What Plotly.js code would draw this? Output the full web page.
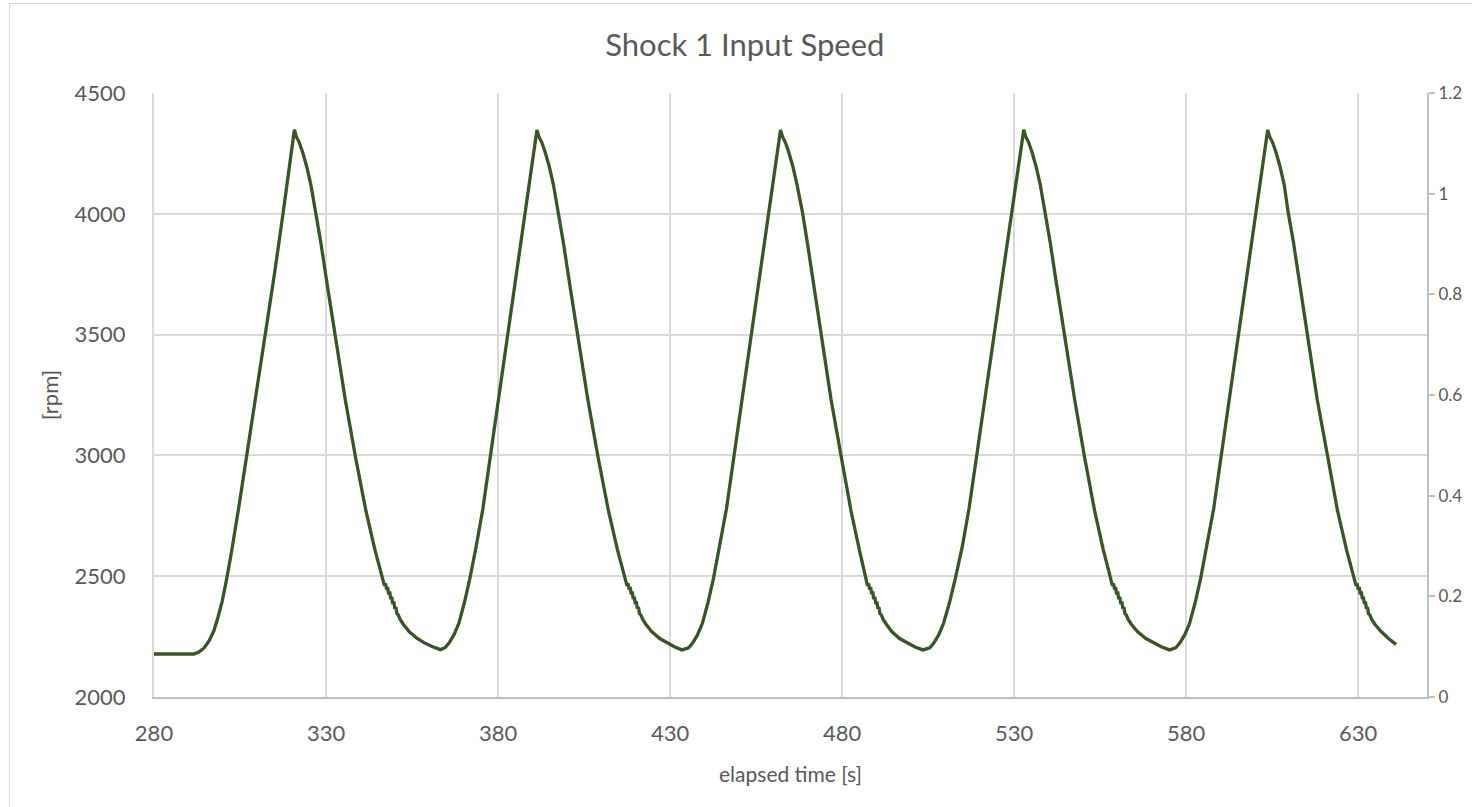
<!DOCTYPE html>
<html>
<head>
<meta charset="utf-8">
<script src="https://cdn.plot.ly/plotly-3.0.1.min.js"></script>
<style>
html, body { margin: 0; padding: 0; background: #ffffff; overflow: hidden; }
#chart { position: absolute; left: 0; top: 0; width: 1472px; height: 807px; }
#frame { position: absolute; left: 9px; top: 3px; width: 1520px; height: 1000px; border: 1px solid #d9d9d9; pointer-events: none; }
</style>
</head>
<body>
<div id="chart"></div>
<div id="frame"></div>
<script>
// elapsed time [s]
const elapsedTime = [
  280.0, 285.0, 291.6, 293.0, 294.5, 296.0, 297.4, 298.6, 299.8, 301.0, 302.4, 304.7, 307.1, 309.8, 312.4, 315.0, 317.5, 320.8,
  321.4, 322.2, 323.2, 324.4, 325.6, 327.0, 328.5, 330.2, 332.6, 335.6, 338.6, 341.6, 344.2, 346.4,
  347.0, 347.3, 347.6, 347.9, 348.2, 348.5, 348.8, 349.1, 349.4, 349.7, 350.0, 350.3, 350.6, 351.0, 351.5,
  352.5, 354.2, 356.5, 358.6, 361.0, 363.2,
  364.6, 365.8, 367.2, 368.6, 370.2, 371.8, 373.6, 375.6, 377.8, 380.3, 382.8, 385.4, 388.0, 391.3,
  391.9, 392.7, 393.7, 394.9, 396.1, 397.5, 399.0, 400.7, 403.1, 406.1, 409.1, 412.1, 414.7, 416.9,
  417.5, 417.8, 418.1, 418.4, 418.7, 419.0, 419.3, 419.6, 419.9, 420.2, 420.5, 420.8, 421.1, 421.5, 422.0,
  423.0, 424.7, 427.0, 429.1, 431.4, 433.4,
  435.4, 436.6, 438.0, 439.4, 441.0, 442.6, 444.4, 446.4, 448.6, 451.1, 453.6, 456.2, 458.8, 462.1,
  462.7, 463.5, 464.5, 465.7, 466.9, 468.5, 469.9, 471.6, 473.9, 476.8, 479.8, 482.6, 485.0, 486.9,
  487.4, 487.7, 488.0, 488.3, 488.6, 488.9, 489.2, 489.5, 489.8, 490.1, 490.4, 490.7, 491.0, 491.4, 491.9,
  492.9, 494.5, 496.7, 498.8, 501.2, 503.5,
  505.5, 506.7, 508.1, 509.5, 511.2, 512.9, 514.9, 516.9, 519.2, 521.7, 524.2, 526.8, 529.4, 532.8,
  533.4, 534.2, 535.2, 536.4, 537.6, 539.0, 540.5, 542.2, 544.6, 547.6, 550.5, 553.4, 555.9, 558.0,
  558.6, 558.9, 559.2, 559.5, 559.8, 560.1, 560.4, 560.7, 561.0, 561.3, 561.6, 561.9, 562.2, 562.6, 563.1,
  564.1, 565.9, 568.3, 570.5, 572.9, 575.2,
  577.0, 578.2, 579.6, 581.0, 582.6, 584.2, 586.0, 588.0, 590.2, 592.7, 595.2, 597.8, 600.4, 603.7,
  604.3, 605.1, 606.1, 607.3, 608.5, 609.6, 611.2, 612.9, 615.1, 618.1, 621.2, 624.0, 626.6, 628.8,
  629.4, 629.7, 630.0, 630.3, 630.6, 630.9, 631.2, 631.5, 631.8, 632.1, 632.4, 632.7, 633.0, 633.4, 633.9,
  634.9, 636.6, 638.8, 641.0
];

// input speed [rpm]
const inputSpeed = [
  2178, 2178, 2178, 2186, 2202, 2232, 2274, 2330, 2395, 2480, 2590, 2790, 3010, 3255, 3500, 3750, 4000, 4348,
  4318, 4296, 4255, 4195, 4120, 4010, 3880, 3720, 3500, 3230, 2990, 2770, 2610, 2495,
  2460, 2470, 2445, 2455, 2425, 2437, 2405, 2415, 2385, 2395, 2365, 2372, 2345, 2340, 2322,
  2300, 2270, 2242, 2224, 2208, 2196,
  2204, 2224, 2258, 2305, 2390, 2490, 2620, 2780, 3000, 3250, 3500, 3760, 4010, 4347,
  4318, 4296, 4255, 4195, 4120, 4010, 3880, 3720, 3500, 3230, 2990, 2770, 2610, 2495,
  2460, 2470, 2445, 2455, 2425, 2437, 2405, 2415, 2385, 2395, 2365, 2372, 2345, 2340, 2322,
  2300, 2270, 2242, 2224, 2207, 2195,
  2204, 2224, 2258, 2305, 2390, 2490, 2620, 2780, 3000, 3250, 3500, 3760, 4010, 4347,
  4318, 4296, 4255, 4195, 4120, 4005, 3880, 3720, 3500, 3230, 2990, 2770, 2610, 2495,
  2460, 2470, 2445, 2455, 2425, 2437, 2405, 2415, 2385, 2395, 2365, 2372, 2345, 2340, 2322,
  2300, 2270, 2242, 2224, 2207, 2195,
  2204, 2224, 2258, 2305, 2390, 2490, 2620, 2780, 3000, 3250, 3500, 3760, 4010, 4348,
  4318, 4296, 4255, 4195, 4120, 4010, 3880, 3720, 3500, 3230, 2990, 2770, 2610, 2495,
  2460, 2470, 2445, 2455, 2425, 2437, 2405, 2415, 2385, 2395, 2365, 2372, 2345, 2340, 2322,
  2300, 2270, 2242, 2224, 2207, 2195,
  2204, 2224, 2258, 2305, 2390, 2490, 2620, 2780, 3000, 3250, 3500, 3760, 4010, 4347,
  4318, 4296, 4255, 4195, 4120, 4010, 3880, 3720, 3500, 3230, 2990, 2770, 2610, 2495,
  2460, 2470, 2445, 2455, 2425, 2437, 2405, 2415, 2385, 2395, 2365, 2372, 2345, 2340, 2322,
  2300, 2272, 2242, 2218
];

const xTicks = [280, 330, 380, 430, 480, 530, 580, 630];
const yTicks = [2000, 2500, 3000, 3500, 4000, 4500];
const y2Ticks = [0, 0.2, 0.4, 0.6, 0.8, 1, 1.2];
const y2TickLabels = ['0', '0.2', '0.4', '0.6', '0.8', '1', '1.2'];

const FONT = 'Lato, "Open Sans", sans-serif';
const TXT = '#595959';

const traces = [
  {
    x: elapsedTime,
    y: inputSpeed,
    type: 'scatter',
    mode: 'lines',
    line: { color: '#375623', width: 3.3, shape: 'linear' },
    hoverinfo: 'x+y',
    showlegend: false
  },
  {
    x: [],
    y: [],
    yaxis: 'y2',
    type: 'scatter',
    mode: 'lines',
    showlegend: false,
    hoverinfo: 'skip'
  }
];

const layout = {
  width: 1472,
  height: 807,
  paper_bgcolor: 'rgba(0,0,0,0)',
  plot_bgcolor: '#ffffff',
  margin: { l: 154, r: 45, t: 93, b: 110 },
  showlegend: false,
  font: { family: FONT, color: TXT },
  title: {
    text: 'Shock 1 Input Speed',
    font: { family: FONT, size: 31, color: TXT },
    x: 0.506, xref: 'container', xanchor: 'center',
    y: 0.944, yref: 'container', yanchor: 'middle'
  },
  xaxis: {
    range: [280, 650],
    tickvals: xTicks,
    ticktext: xTicks.map(String),
    showgrid: true,
    gridcolor: '#d9d9d9',
    gridwidth: 2,
    zeroline: false,
    showline: true,
    linecolor: '#bfbfbf',
    linewidth: 2,
    ticks: 'outside',
    ticklen: 16,
    tickcolor: 'rgba(0,0,0,0)',
    tickfont: { family: FONT, size: 22, color: TXT },
    title: { text: 'elapsed time [s]', font: { family: FONT, size: 21, color: TXT }, standoff: 22 }
  },
  yaxis: {
    range: [2000, 4500],
    tickvals: yTicks,
    ticktext: yTicks.map(String),
    showgrid: true,
    gridcolor: '#d9d9d9',
    gridwidth: 2,
    zeroline: false,
    showline: true,
    linecolor: '#d9d9d9',
    linewidth: 2,
    ticks: 'outside',
    ticklen: 22,
    tickcolor: 'rgba(0,0,0,0)',
    tickfont: { family: FONT, size: 22, color: TXT },
    title: { text: '[rpm]', font: { family: FONT, size: 22, color: TXT }, standoff: 10 }
  },
  yaxis2: {
    overlaying: 'y',
    side: 'right',
    range: [0, 1.2],
    tickvals: y2Ticks,
    ticktext: y2TickLabels,
    showgrid: false,
    zeroline: false,
    showline: true,
    linecolor: '#bfbfbf',
    linewidth: 2,
    ticks: 'outside',
    ticklen: 6,
    tickwidth: 2,
    tickcolor: '#bfbfbf',
    tickfont: { family: FONT, size: 17, color: TXT }
  }
};

Plotly.newPlot('chart', traces, layout, { displayModeBar: false, staticPlot: true });
</script>
</body>
</html>
